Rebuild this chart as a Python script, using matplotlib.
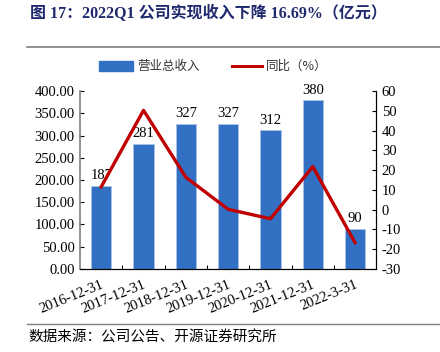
import matplotlib.pyplot as plt
from matplotlib.lines import Line2D
from matplotlib.patches import Rectangle

plt.rcParams['font.family'] = ['Liberation Serif', 'Noto Sans CJK SC']

# data
dates = ['2016-12-31', '2017-12-31', '2018-12-31', '2019-12-31',
         '2020-12-31', '2021-12-31', '2022-3-31']
revenue = [187, 281, 327, 327, 312, 380, 90]
yoy = [11.6, 50.3, 16.4, 0.2, -4.6, 21.8, -16.7]

bar_color = '#3170C2'
line_color = '#C00000'

fig = plt.figure(figsize=(4.4, 3.52), dpi=100)
ax = fig.add_axes([0.182, 0.236, 0.673, 0.505])
ax2 = ax.twinx()

x = list(range(len(dates)))
ax.bar(x, revenue, width=0.48, color=bar_color, edgecolor='#A9C4E8',
       linewidth=0.6, zorder=2)
for xi, v in zip(x, revenue):
    ax.text(xi, v + 8, str(v), ha='center', va='bottom', fontsize=10.5)

ax2.plot(x, yoy, color=line_color, linewidth=2.4, zorder=3)

ax.set_xlim(-0.5, len(dates) - 0.5)
ax.set_ylim(0, 400)
ax.set_yticks(range(0, 401, 50))
ax.set_yticklabels(['%.2f' % v for v in range(0, 401, 50)], fontsize=10.5)
ax2.set_ylim(-30, 60)
ax2.set_yticks(range(-30, 61, 10))
ax2.set_yticklabels([str(v) for v in range(-30, 61, 10)], fontsize=10.5)

ax.set_xticks([i + 0.5 for i in x[:-1]])
ax.set_xticklabels([])
ax.tick_params(axis='x', direction='in', length=3, width=0.8)
ax.tick_params(axis='y', direction='in', length=3, width=0.8, pad=4)
ax2.tick_params(axis='y', direction='in', length=3, width=0.8, pad=4)
for xi, d in zip(x, dates):
    ax.text(xi + 0.1, -20, d, rotation=22, ha='right', va='top',
            fontsize=10.5, transform=ax.transData)

for a in (ax, ax2):
    a.spines['top'].set_visible(False)
ax.spines['left'].set_color('#808080')
ax.spines['left'].set_linewidth(1.2)
ax2.spines['left'].set_visible(False)
ax2.spines['right'].set_color('black')
ax2.spines['bottom'].set_color('black')

# title and separators
fig.text(0.068, 0.963, '图 17：2022Q1 公司实现收入下降 16.69%（亿元）',
         fontsize=11.5, fontweight='bold', color='#1F2A6E',
         family=['Liberation Serif', 'Noto Sans CJK SC'],
         ha='left', va='center')
fig.add_artist(Line2D([0.061, 1.0], [0.867, 0.867], color='#7F7F7F', lw=1.2))
fig.add_artist(Line2D([0.061, 1.0], [0.080, 0.080], color='#7F7F7F', lw=1.0))
fig.text(0.064, 0.04, '数据来源：公司公告、开源证券研究所', fontsize=10.5,
         family=['Noto Sans CJK SC'], ha='left', va='center')

# legend
fig.add_artist(Rectangle((0.225, 0.797), 0.077, 0.03, color=bar_color,
                         transform=fig.transFigure))
fig.text(0.312, 0.812, '营业总收入', fontsize=9, family=['Noto Sans CJK SC'],
         ha='left', va='center', color='#333333')
fig.add_artist(Line2D([0.527, 0.596], [0.812, 0.812], color=line_color, lw=2.2))
fig.text(0.605, 0.812, '同比（%）', fontsize=9, family=['Noto Sans CJK SC'],
         ha='left', va='center', color='#333333')

fig.savefig('out.png', dpi=100)
